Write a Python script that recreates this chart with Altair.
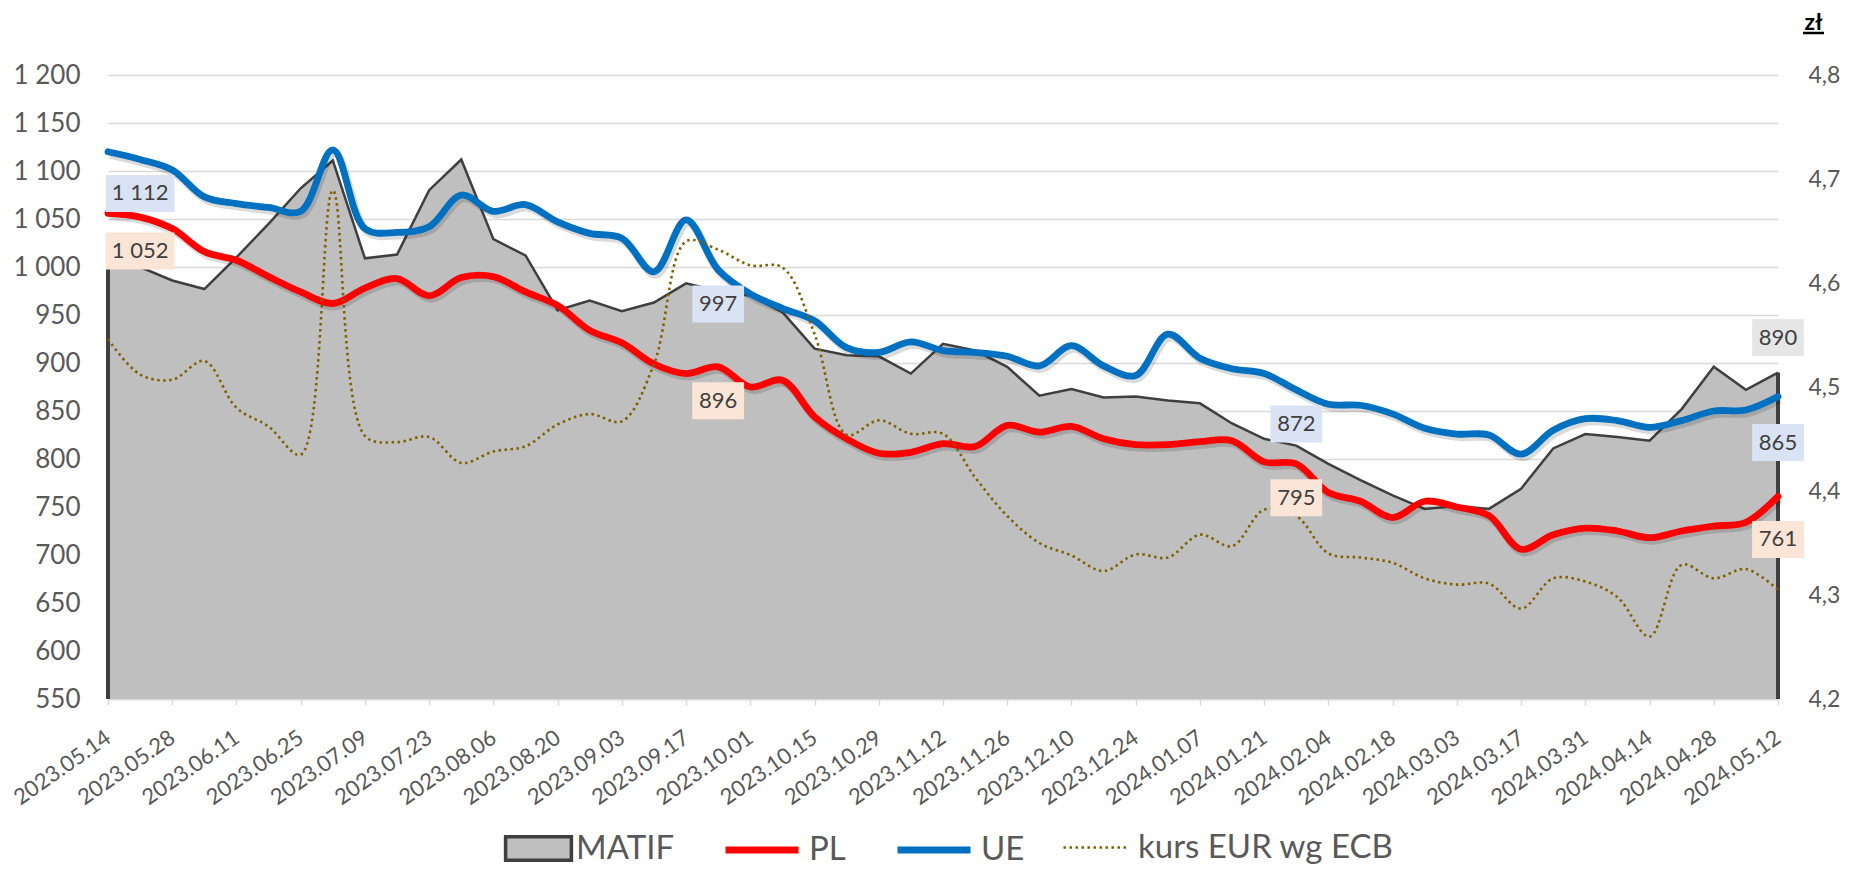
import json
import datetime as dt
import pandas as pd
import altair as alt

# ---- data (weekly) ----
weeks = [(dt.date(2023, 5, 14) + dt.timedelta(weeks=k)).strftime("%Y.%m.%d") for k in range(53)]

matif = [1003, 1000, 986, 977, 1010, 1045, 1082, 1111, 1009, 1013, 1080, 1112, 1029, 1012, 955, 965,
         954, 963, 983, 975, 970, 953, 915, 908, 907, 889, 920, 913, 896, 866, 873, 864, 865, 861, 858,
         837, 821, 814, 795, 778, 762, 748, 751, 748, 769, 811, 826, 823, 819, 852, 896, 872, 890]

pl = [1056, 1052, 1040, 1016, 1007, 990, 974, 962, 978, 988, 970, 989, 990, 974, 960, 934,
      921, 899, 889, 896, 875, 882, 844, 821, 806, 807, 816, 813, 835, 828, 834, 821, 815, 815, 818,
      819, 797, 795, 765, 756, 739, 756, 750, 741, 706, 721, 728, 725, 718, 725, 730, 734, 761]

ue = [1120, 1112, 1101, 1073, 1066, 1062, 1058, 1122, 1040, 1036, 1042, 1075, 1058, 1065, 1047, 1035,
      1030, 995, 1049, 997, 972, 957, 944, 916, 911, 922, 913, 911, 907, 897, 918, 897, 887, 930, 905,
      894, 889, 872, 857, 856, 847, 832, 826, 825, 805, 830, 842, 840, 833, 840, 850, 851, 865]

ecb = [4.546, 4.512, 4.507, 4.525, 4.480, 4.462, 4.435, 4.689, 4.453, 4.447, 4.452, 4.427, 4.438, 4.443,
       4.464, 4.474, 4.467, 4.522, 4.640, 4.632, 4.617, 4.615, 4.551, 4.454, 4.468, 4.455, 4.455, 4.413,
       4.376, 4.350, 4.338, 4.323, 4.339, 4.336, 4.358, 4.347, 4.382, 4.376, 4.340, 4.336, 4.331, 4.316,
       4.310, 4.311, 4.287, 4.316, 4.313, 4.298, 4.260, 4.329, 4.316, 4.325, 4.305]

left_ticks = [550, 600, 650, 700, 750, 800, 850, 900, 950, 1000, 1050, 1100, 1150, 1200]
right_ticks = [4.2, 4.3, 4.4, 4.5, 4.6, 4.7, 4.8]
x_ticks = list(range(0, 53, 2))

label_first_mid = [19, 37]
label_first = [1]
label_last = [52]

df = pd.DataFrame({"i": list(range(53)), "date": weeks, "matif": matif, "pl": pl, "ue": ue, "ecb": ecb})

FONT = "Lato"
TXT = "#595959"
DARK = "#3F3F3F"

x_axis = alt.Axis(values=x_ticks, labelExpr=json.dumps(weeks) + "[datum.value]", labelAngle=-35,
                  labelAlign="right", labelBaseline="middle", labelPadding=30, labelFontSize=22,
                  labelColor=TXT, labelFont=FONT, grid=False, domainColor="#D9D9D9", domainWidth=1.5,
                  ticks=True, tickColor="#D9D9D9", tickSize=6, tickWidth=1.5, title=None,
                  labelOverlap=False, labelFlush=False)
X = alt.X("i:Q", scale=alt.Scale(domain=[0, 52], nice=False, zero=False), axis=x_axis)

yl_axis = alt.Axis(values=left_ticks, labelExpr="replace(format(datum.value, ','), ',', ' ')", grid=True,
                   gridColor="#D9D9D9", gridWidth=1.3, domain=False, ticks=False, labelPadding=28,
                   labelFontSize=26, labelColor=TXT, labelFont=FONT, title=None)


def YL(f):
    return alt.Y(f"{f}:Q", scale=alt.Scale(domain=[550, 1200], nice=False, zero=False), axis=yl_axis)


def YLab(f):
    return alt.Y(f"{f}:Q", scale=alt.Scale(domain=[550, 1200], nice=False, zero=False), axis=None)


yr_axis = alt.Axis(orient="right", values=right_ticks,
                   labelExpr="replace(format(datum.value, '.1f'), '.', ',')", grid=False, domain=False,
                   ticks=False, labelPadding=30, labelFontSize=23, labelColor=TXT, labelFont=FONT,
                   title="zł", titleAngle=0, titleX=35, titleY=-46, titleFontSize=23, titleFontWeight="bold",
                   titleColor="black", titleAlign="center", titleBaseline="alphabetic", titleFont=FONT)


def leg(x, y, offset=7, **kw):
    return alt.Legend(orient="none", legendX=x, legendY=y, title=None, labelFont=FONT, labelFontSize=33,
                      labelColor=TXT, labelLimit=600, padding=0, labelOffset=offset, **kw)


area = alt.Chart(df).transform_calculate(s="'MATIF'").mark_area(opacity=1).encode(
    x=X, y=YL("matif"), y2=alt.datum(550),
    fill=alt.Fill("s:N", scale=alt.Scale(domain=["MATIF"], range=["#BFBFBF"]),
                  legend=leg(405, 748, offset=12, symbolType="M-1.4,-0.5L1.4,-0.5L1.4,0.5L-1.4,0.5Z",
                             symbolSize=2209, symbolStrokeColor=DARK, symbolStrokeWidth=3.5, symbolOpacity=1)))

matif_line = alt.Chart(df).mark_line(color=DARK, strokeWidth=2.5).encode(x=X, y=YL("matif"))
edges = alt.Chart(df).transform_filter("datum.i == 0 || datum.i == 52").mark_rule(
    color=DARK, strokeWidth=4).encode(x=X, y=YL("matif"), y2=alt.datum(550))


def shadow(f):
    return alt.Chart(df).mark_line(interpolate="catmull-rom", color="black", opacity=0.14, strokeWidth=8,
                                   yOffset=3, xOffset=2).encode(x=X, y=YL(f))


pl_line = alt.Chart(df).transform_calculate(s="'PL'").mark_line(
    interpolate="catmull-rom", strokeWidth=6.8, strokeCap="round").encode(
    x=X, y=YL("pl"),
    stroke=alt.Stroke("s:N", scale=alt.Scale(domain=["PL"], range=["#FF0000"]),
                      legend=leg(614, 735, symbolType="stroke", symbolSize=5329, symbolStrokeWidth=7)))

ue_line = alt.Chart(df).transform_calculate(s="'UE'").mark_line(
    interpolate="catmull-rom", strokeWidth=6.8, strokeCap="round").encode(
    x=X, y=YL("ue"),
    color=alt.Color("s:N", scale=alt.Scale(domain=["UE"], range=["#0070C0"]),
                    legend=leg(786, 735, symbolType="stroke", symbolSize=5329, symbolStrokeWidth=7)))

underline = alt.Chart(alt.Data(values=[{}])).mark_rule(color="black", strokeWidth=2.5).encode(
    x=alt.value(1695), x2=alt.value(1716), y=alt.value(-42))

left = alt.layer(area, matif_line, edges, shadow("pl"), shadow("ue"), pl_line, ue_line, underline)

ecb_line = alt.Chart(df).transform_calculate(s="'kurs EUR wg ECB'").mark_line(
    interpolate="catmull-rom", color="#7F6000", strokeWidth=2.6).encode(
    x=X,
    y=alt.Y("ecb:Q", scale=alt.Scale(domain=[4.2, 4.8], nice=False, zero=False), axis=yr_axis),
    strokeDash=alt.StrokeDash("s:N", scale=alt.Scale(domain=["kurs EUR wg ECB"], range=[[2.5, 3.5]]),
                              legend=leg(954, 738, symbolType="stroke", symbolSize=4356,
                                         symbolStrokeWidth=2.6, symbolStrokeColor="#7F6000")))


def label_layer(field, idx, bg, dy, halfw):
    base = alt.Chart(df).transform_filter(alt.FieldOneOfPredicate(field="i", oneOf=idx)).transform_calculate(
        t=f"replace(format(datum.{field}, ','), ',', ' ')")
    box = base.mark_point(shape=f"M-{halfw},-1L{halfw},-1L{halfw},1L-{halfw},1Z", size=1369, filled=True,
                          fill=bg, opacity=1, strokeWidth=0, yOffset=dy).encode(x=X, y=YLab(field))
    txt = base.mark_text(font=FONT, fontSize=22, color="#404040", yOffset=dy, baseline="middle").encode(
        x=X, y=YLab(field), text="t:N")
    return [box, txt]


UE_BG = "#DAE3F3"
PL_BG = "#FBE5D6"
MA_BG = "#E7E6E6"
lab_layers = (label_layer("ue", label_first, UE_BG, 34, 1.86) + label_layer("pl", label_first, PL_BG, 34, 1.86)
              + label_layer("ue", label_first_mid, UE_BG, 34, 1.4) + label_layer("pl", label_first_mid, PL_BG, 34, 1.4)
              + label_layer("ue", label_last, UE_BG, 46, 1.4) + label_layer("pl", label_last, PL_BG, 43, 1.4)
              + label_layer("matif", label_last, MA_BG, -35, 1.4))
labels = alt.layer(*lab_layers)

chart = alt.layer(left, ecb_line, labels).resolve_scale(y="independent").properties(
    width=1670, height=624,
    padding={"left": 100, "top": 67, "right": 73, "bottom": 166},
    autosize=alt.AutoSizeParams(type="none"),
    background="white",
).configure_view(stroke=None)

chart.save("out.html", embed_options={"renderer": "svg", "actions": False})
